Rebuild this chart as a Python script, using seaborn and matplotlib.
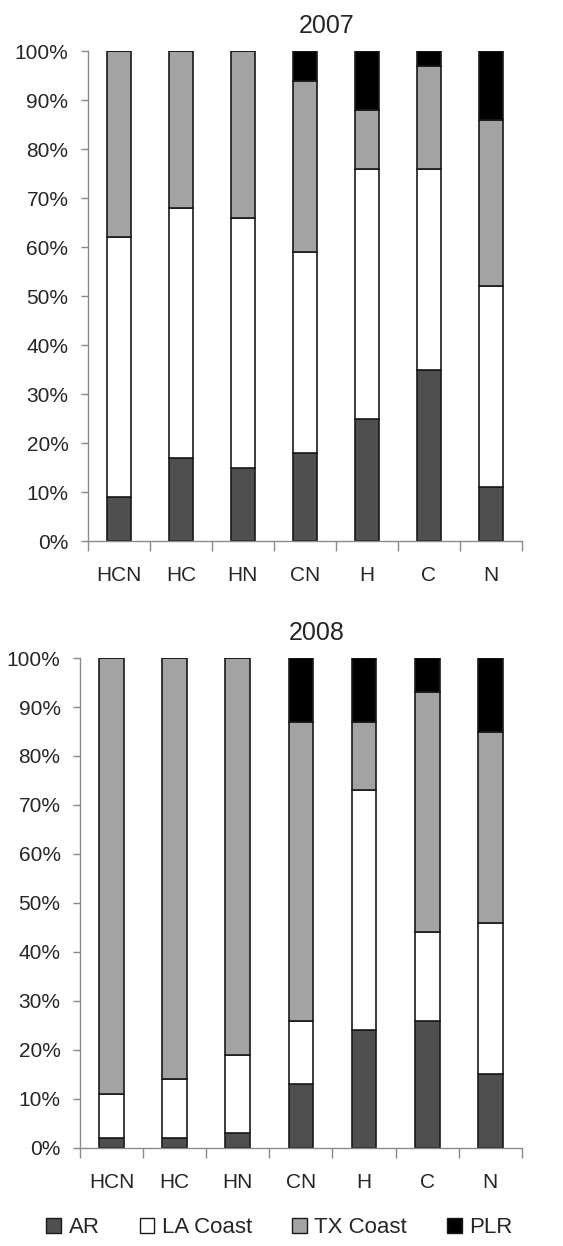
import numpy as np
import pandas as pd
import matplotlib
matplotlib.use("Agg")
import matplotlib.pyplot as plt
import seaborn as sns
from matplotlib.patches import Patch
from matplotlib.ticker import PercentFormatter, FixedLocator

categories = ["HCN", "HC", "HN", "CN", "H", "C", "N"]
series = ["AR", "LA Coast", "TX Coast", "PLR"]

# 2007 (%)
ar_2007 = [9, 17, 15, 18, 25, 35, 11]
la_2007 = [53, 51, 51, 41, 51, 41, 41]
tx_2007 = [38, 32, 34, 35, 12, 21, 34]
plr_2007 = [0, 0, 0, 6, 12, 3, 14]

# 2008 (%)
ar_2008 = [2, 2, 3, 13, 24, 26, 15]
la_2008 = [9, 12, 16, 13, 49, 18, 31]
tx_2008 = [89, 86, 81, 61, 14, 49, 39]
plr_2008 = [0, 0, 0, 13, 13, 7, 15]

years = ["2007", "2008"]
colors = ["#4f4f4f", "#ffffff", "#a3a3a3", "#000000"]

sns.set_theme(style="white")
plt.rcParams["font.family"] = ["Liberation Sans", "DejaVu Sans"]

fig = plt.figure(figsize=(5.63, 12.46), dpi=100)
axes = [fig.add_axes([0.156, 0.5658, 0.771, 0.393]),
        fig.add_axes([0.142, 0.0787, 0.785, 0.3932])]
title_x = [0.55, 0.536]

data = {
    "2007": [ar_2007, la_2007, tx_2007, plr_2007],
    "2008": [ar_2008, la_2008, tx_2008, plr_2008],
}

for ax, yr, tx in zip(axes, years, title_x):
    bottom = np.zeros(len(categories))
    for name, vals, col in zip(series, data[yr], colors):
        df = pd.DataFrame({"cat": categories, "val": vals})
        sns.barplot(data=df, x="cat", y="val", color=col, bottom=bottom,
                    width=0.39, edgecolor="#1a1a1a", linewidth=1.2,
                    saturation=1, ax=ax, errorbar=None)
        bottom = bottom + np.array(vals)
    ax.set_xlim(-0.5, len(categories) - 0.5)
    ax.set_ylim(0, 100)
    ax.set_yticks(np.arange(0, 101, 10))
    ax.yaxis.set_major_formatter(PercentFormatter(decimals=0))
    ax.set_xlabel("")
    ax.set_ylabel("")
    ax.set_title(yr, fontsize=18, pad=13, x=tx)
    for s in ["top", "right"]:
        ax.spines[s].set_visible(False)
    for s in ["left", "bottom"]:
        ax.spines[s].set_color("#8a8a8a")
        ax.spines[s].set_linewidth(1.0)
    ax.tick_params(axis="y", which="major", left=True, length=5, width=1,
                   color="#8a8a8a", labelsize=15, pad=9)
    ax.tick_params(axis="x", which="major", bottom=False, length=0,
                   labelsize=15, pad=18)
    ax.xaxis.set_minor_locator(FixedLocator(np.arange(-0.5, len(categories), 1.0)))
    ax.tick_params(axis="x", which="minor", bottom=True, length=7, width=1,
                   color="#8a8a8a", direction="out")

handles = [Patch(facecolor=c, edgecolor="#1a1a1a", label=n) for n, c in zip(series, colors)]
fig.legend(handles=handles, loc="center", bbox_to_anchor=(0.4965, 0.0145), ncol=4,
           frameon=False, fontsize=16, handlelength=0.65, handleheight=0.65,
           handletextpad=0.35, columnspacing=1.8)

fig.savefig("out.png", dpi=100)
